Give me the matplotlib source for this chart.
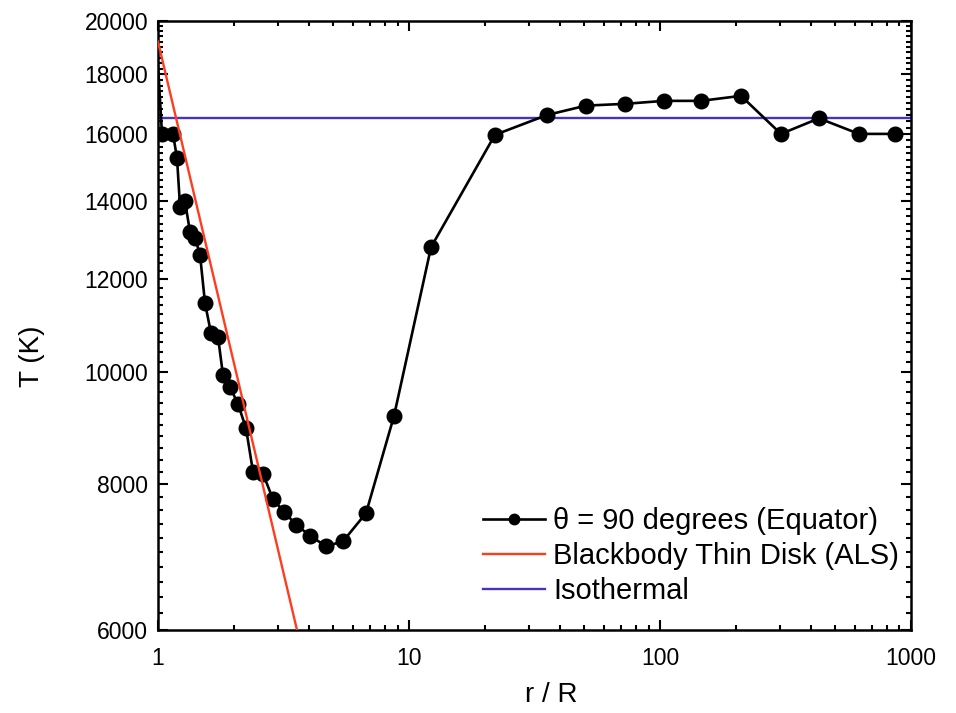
import numpy as np
import matplotlib
matplotlib.use('Agg')
import matplotlib.pyplot as plt
from matplotlib.ticker import FixedLocator, FixedFormatter, NullFormatter
from matplotlib.lines import Line2D

plt.rcParams['font.family'] = ['Liberation Sans', 'DejaVu Sans']

# equatorial temperature profile (theta = 90 deg)
r_eq = [1.0, 1.037, 1.147, 1.190, 1.224, 1.281, 1.341, 1.404, 1.470, 1.539,
        1.626, 1.734, 1.815, 1.936, 2.083, 2.242, 2.391, 2.620, 2.872, 3.177,
        3.546, 4.033, 4.670, 5.458, 6.742, 8.713, 12.24, 22.0, 35.5, 50.7,
        72.6, 103.8, 145.6, 210.2, 303.4, 430.0, 620.7, 863.7]
T_eq = [18300, 16000, 16000, 15260, 13850, 14000, 13180, 13030, 12600, 11450,
        10790, 10710, 9930, 9700, 9380, 8940, 8200, 8170, 7770, 7580,
        7390, 7230, 7080, 7150, 7560, 9160, 12790, 15970, 16610, 16920,
        16980, 17080, 17080, 17250, 16000, 16500, 16000, 16000]

# blackbody thin disk (straight line in log-log), endpoints
r_bb = [1.0, 3.7]
T_bb = [19200, 5820]

T_iso = 16500

fig = plt.figure(figsize=(9.56, 7.13), dpi=100)
ax = fig.add_axes([0.1653, 0.1164, 0.7876, 0.8541])

# first point sits on the axis, only its line segment shows
ax.plot(r_eq, T_eq, color='black', lw=1.9, marker='o', ms=10.5,
        markevery=list(range(1, len(r_eq))), zorder=3)
ax.plot(r_bb, T_bb, color='#ff3c1e', lw=1.7, zorder=4)
ax.axhline(T_iso, color='#4a32c0', lw=1.7, zorder=2)

ax.set_xscale('log')
ax.set_yscale('log')
ax.set_xlim(1, 1000)
ax.set_ylim(6000, 20000)

ymaj = list(range(6000, 20001, 2000))
ymin = [v for v in range(6000, 20001, 200) if v not in ymaj]
ax.yaxis.set_major_locator(FixedLocator(ymaj))
ax.yaxis.set_major_formatter(FixedFormatter([str(v) for v in ymaj]))
ax.yaxis.set_minor_locator(FixedLocator(ymin))
ax.yaxis.set_minor_formatter(NullFormatter())

xmaj = [1, 10, 100, 1000]
ax.xaxis.set_major_locator(FixedLocator(xmaj))
ax.xaxis.set_major_formatter(FixedFormatter([str(v) for v in xmaj]))
xmin = [m * d for d in [1, 10, 100] for m in range(2, 10)]
ax.xaxis.set_minor_locator(FixedLocator(xmin))
ax.xaxis.set_minor_formatter(NullFormatter())

for s in ax.spines.values():
    s.set_linewidth(1.8)
ax.tick_params(which='both', direction='in', top=True, right=True, width=1.5)
ax.tick_params(which='major', length=7, labelsize=16.5)
ax.tick_params(axis='y', which='major', pad=7)
ax.tick_params(axis='x', which='major', pad=12)
ax.tick_params(which='minor', length=3.5)

ax.set_xlabel('r / R', fontsize=20)
ax.set_ylabel('T (K)', fontsize=20)
ax.xaxis.set_label_coords(0.522, -0.085)
ax.yaxis.set_label_coords(-0.15, 0.45)

handles = [Line2D([], [], color='black', lw=1.9, marker='o', ms=7.5),
           Line2D([], [], color='#ff3c1e', lw=1.7),
           Line2D([], [], color='#4a32c0', lw=1.7)]
labels = ['θ = 90 degrees (Equator)', 'Blackbody Thin Disk (ALS)', 'Isothermal']
ax.legend(handles, labels, loc='lower right', frameon=False, fontsize=21,
          handlelength=2.1, handletextpad=0.3, labelspacing=0.24,
          borderaxespad=0.0, bbox_to_anchor=(1.0, 0.022))

fig.savefig('out.png', dpi=100)
